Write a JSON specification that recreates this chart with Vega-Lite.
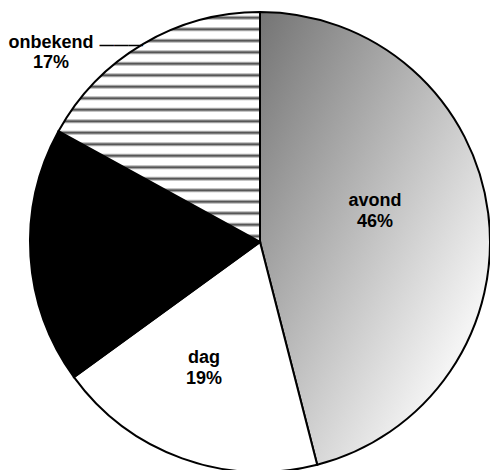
{
  "$schema": "https://vega.github.io/schema/vega-lite/v6.json",
  "width": 460,
  "height": 460,
  "autosize": {"type": "none"},
  "padding": {"left": 30, "top": 12, "right": 0, "bottom": 0},
  "background": "white",
  "view": {"stroke": null},
  "data": {
    "values": [
      {"cat": "avond", "pct": 46, "label": "avond\n46%"},
      {"cat": "dag", "pct": 19, "label": "dag\n19%"},
      {"cat": "nacht", "pct": 18, "label": "nacht\n18%"},
      {"cat": "onbekend", "pct": 17, "label": "onbekend\n17%"}
    ]
  },
  "encoding": {
    "theta": {"field": "pct", "type": "quantitative", "stack": true},
    "order": {"field": "cat", "type": "ordinal", "sort": "ascending"}
  },
  "layer": [
    {
      "mark": {"type": "arc", "stroke": "black", "strokeWidth": 2, "strokeJoin": "miter"},
      "encoding": {
        "color": {
          "condition": [
            {"test": "datum.cat === 'avond'", "value": {"gradient": "linear", "x1": 0, "y1": 0, "x2": 1, "y2": 1, "stops": [{"offset": 0, "color": "#747474"}, {"offset": 0.8, "color": "#f4f4f4"}, {"offset": 1, "color": "#f8f8f8"}]}},
            {"test": "datum.cat === 'nacht'", "value": "#000000"},
            {"test": "datum.cat === 'onbekend'", "value": {"gradient": "linear", "x1": 0, "y1": 0, "x2": 0, "y2": 1, "stops": [
              {"offset": 0, "color": "#ffffff"},
              {"offset": 0.014, "color": "#ffffff"}, {"offset": 0.025, "color": "#444444"}, {"offset": 0.036, "color": "#ffffff"},
              {"offset": 0.064, "color": "#ffffff"}, {"offset": 0.075, "color": "#444444"}, {"offset": 0.086, "color": "#ffffff"},
              {"offset": 0.114, "color": "#ffffff"}, {"offset": 0.125, "color": "#444444"}, {"offset": 0.136, "color": "#ffffff"},
              {"offset": 0.164, "color": "#ffffff"}, {"offset": 0.175, "color": "#444444"}, {"offset": 0.186, "color": "#ffffff"},
              {"offset": 0.214, "color": "#ffffff"}, {"offset": 0.225, "color": "#444444"}, {"offset": 0.236, "color": "#ffffff"},
              {"offset": 0.264, "color": "#ffffff"}, {"offset": 0.275, "color": "#444444"}, {"offset": 0.286, "color": "#ffffff"},
              {"offset": 0.314, "color": "#ffffff"}, {"offset": 0.325, "color": "#444444"}, {"offset": 0.336, "color": "#ffffff"},
              {"offset": 0.364, "color": "#ffffff"}, {"offset": 0.375, "color": "#444444"}, {"offset": 0.386, "color": "#ffffff"},
              {"offset": 0.414, "color": "#ffffff"}, {"offset": 0.425, "color": "#444444"}, {"offset": 0.436, "color": "#ffffff"},
              {"offset": 0.464, "color": "#ffffff"}, {"offset": 0.475, "color": "#444444"}, {"offset": 0.486, "color": "#ffffff"},
              {"offset": 0.514, "color": "#ffffff"}, {"offset": 0.525, "color": "#444444"}, {"offset": 0.536, "color": "#ffffff"},
              {"offset": 0.564, "color": "#ffffff"}, {"offset": 0.575, "color": "#444444"}, {"offset": 0.586, "color": "#ffffff"},
              {"offset": 0.614, "color": "#ffffff"}, {"offset": 0.625, "color": "#444444"}, {"offset": 0.636, "color": "#ffffff"},
              {"offset": 0.664, "color": "#ffffff"}, {"offset": 0.675, "color": "#444444"}, {"offset": 0.686, "color": "#ffffff"},
              {"offset": 0.714, "color": "#ffffff"}, {"offset": 0.725, "color": "#444444"}, {"offset": 0.736, "color": "#ffffff"},
              {"offset": 0.764, "color": "#ffffff"}, {"offset": 0.775, "color": "#444444"}, {"offset": 0.786, "color": "#ffffff"},
              {"offset": 0.814, "color": "#ffffff"}, {"offset": 0.825, "color": "#444444"}, {"offset": 0.836, "color": "#ffffff"},
              {"offset": 0.864, "color": "#ffffff"}, {"offset": 0.875, "color": "#444444"}, {"offset": 0.886, "color": "#ffffff"},
              {"offset": 0.914, "color": "#ffffff"}, {"offset": 0.925, "color": "#444444"}, {"offset": 0.936, "color": "#ffffff"},
              {"offset": 0.964, "color": "#ffffff"}, {"offset": 0.975, "color": "#444444"}, {"offset": 0.986, "color": "#ffffff"},
              {"offset": 1, "color": "#ffffff"}
            ]}}
          ],
          "value": "#ffffff"
        }
      }
    },
    {
      "mark": {"type": "text", "radius": 116, "dy": -21, "font": "Liberation Sans", "fontWeight": "bold", "fontSize": 18, "lineBreak": "\n", "lineHeight": 21, "baseline": "alphabetic", "align": "center", "color": "#000000"},
      "encoding": {"text": {"condition": {"test": "datum.cat === 'avond'", "field": "label", "type": "nominal"}, "value": ""}}
    },
    {
      "mark": {"type": "text", "radius": 133, "dx": -11, "dy": -4, "font": "Liberation Sans", "fontWeight": "bold", "fontSize": 18, "lineBreak": "\n", "lineHeight": 21, "baseline": "alphabetic", "align": "center", "color": "#000000"},
      "encoding": {"text": {"condition": {"test": "datum.cat === 'dag' || datum.cat === 'nacht'", "field": "label", "type": "nominal"}, "value": ""}}
    },
    {
      "mark": {"type": "text", "radius": 230, "dx": -92, "dy": 4, "font": "Liberation Sans", "fontWeight": "bold", "fontSize": 18, "lineBreak": "\n", "lineHeight": 20, "baseline": "alphabetic", "align": "center", "color": "#000000"},
      "encoding": {"text": {"condition": {"test": "datum.cat === 'onbekend'", "field": "label", "type": "nominal"}, "value": ""}}
    },
    {
      "mark": {"type": "text", "radius": 230, "dy": 6, "font": "Liberation Sans", "fontWeight": "bold", "fontSize": 14.5, "baseline": "alphabetic", "align": "right", "color": "#000000"},
      "encoding": {"text": {"condition": {"test": "datum.cat === 'onbekend'", "value": "———"}, "value": ""}}
    }
  ]
}
